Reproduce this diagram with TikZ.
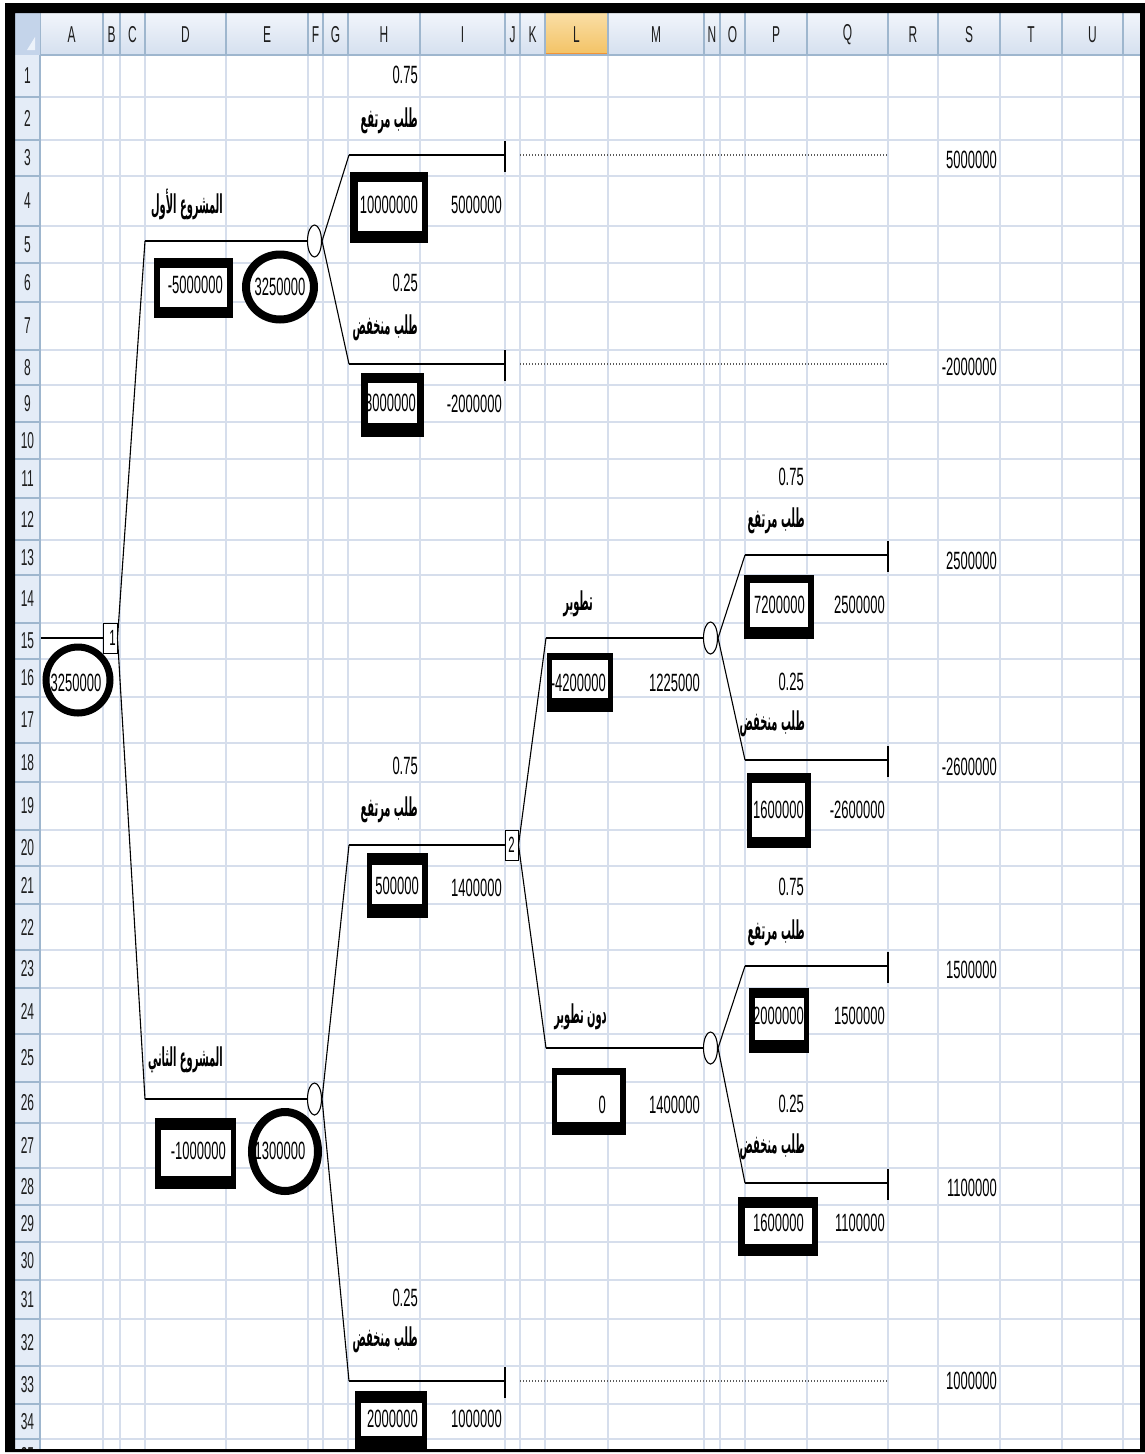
\documentclass[tikz,border=0pt]{standalone}
\usepackage{fontspec}
\TeXXeTstate=1
\newfontfamily\numfont[FakeStretch=0.52]{Liberation Sans}
\newfontfamily\arfont[Script=Arabic,FakeStretch=0.38]{DejaVu Sans}
\usetikzlibrary{shapes.geometric}
\definecolor{gridc}{RGB}{214,222,236}
\definecolor{hdrline}{RGB}{158,182,206}
\definecolor{hdrtop}{RGB}{241,245,251}
\definecolor{hdrbot}{RGB}{213,224,239}
\definecolor{rowhdr}{RGB}{228,236,247}
\definecolor{seltop}{RGB}{250,222,165}
\definecolor{selbot}{RGB}{243,194,100}
\definecolor{selline}{RGB}{242,148,54}
\definecolor{dotc}{RGB}{90,90,90}
\definecolor{hdrtext}{RGB}{30,30,30}
\definecolor{cornerc}{RGB}{196,212,234}
\definecolor{cornertri}{RGB}{236,242,250}
\newcommand\thickbox[8]{\fill[black] (#1,#2) rectangle (#3,#4); \fill[white] (#5,#6) rectangle (#7,#8);}
\tikzset{
  num/.style={font=\numfont\fontsize{25}{25}\selectfont, inner sep=0pt, anchor=east},
  ar/.style={font=\arfont\bfseries\fontsize{26}{26}\selectfont, inner sep=0pt, anchor=east},
  hdr/.style={font=\numfont\fontsize{23}{23}\selectfont, inner sep=0pt, text=hdrtext},
  hline/.style={line width=1.8pt},
  diag/.style={line width=1.1pt},
  chance/.style={draw, ellipse, line width=1.1pt, fill=white, minimum width=14pt, minimum height=32pt, inner sep=0pt},
  dsq/.style={draw, rectangle, line width=1pt, fill=white, minimum width=14pt, minimum height=30pt, inner sep=0pt, font=\numfont\fontsize{22}{22}\selectfont},
  evring/.style={line width=8pt, fill=white},
  dotl/.style={dotc, line width=1.2pt, dash pattern=on 1.2pt off 1.8pt},
  gridl/.style={gridc, line width=2pt}
}
\begin{document}
\begin{tikzpicture}[x=1pt,y=-1pt]
\useasboundingbox (0,0) rectangle (1145,1454);
\fill[white] (0,0) rectangle (1145,1454);
% gridlines
\foreach \gx in {103,120,145,226,308,323,348,420,505,520,545,608,704,720,745,807,888,938,1000,1062,1123}
  \draw[gridl] (\gx,55) -- (\gx,1449);
\foreach \gy in {97,140,176,226,263,302,350,385,422,459,498,540,575,623,659,697,743,782,830,866,904,950,988,1034,1082,1123,1168,1205,1242,1280,1319,1366,1404,1439}
  \draw[gridl] (40,\gy) -- (1140,\gy);
% column header
\shade[top color=hdrtop, bottom color=hdrbot] (40,13) rectangle (1140,55);
\shade[top color=seltop, bottom color=selbot] (545,13) rectangle (608,55);
\draw[selline, line width=2pt] (545,54) -- (608,54);
\foreach \ca/\cb/\cl in {40/103/A,103/120/B,120/145/C,145/226/D,226/308/E,308/323/F,323/348/G,348/420/H,420/505/I,505/520/J,520/545/K,545/608/L,608/704/M,704/720/N,720/745/O,745/807/P,807/888/Q,888/938/R,938/1000/S,1000/1062/T,1062/1123/U}{
  \draw[hdrline, line width=1.2pt] (\cb,13) -- (\cb,55);
  \node[hdr] (col\cl) at ({(\ca+\cb)/2},35) {\cl};
}
\draw[hdrline, line width=1.5pt] (15,55) -- (1140,55);
% row header
\fill[rowhdr] (15,55) rectangle (40,1449);
\draw[hdrline, line width=1.5pt] (40,13) -- (40,1449);
\foreach \ra/\rb [count=\ri] in {55/97,97/140,140/176,176/226,226/263,263/302,302/350,350/385,385/422,422/459,459/498,498/540,540/575,575/623,623/659,659/697,697/743,743/782,782/830,830/866,866/904,904/950,950/988,988/1034,1034/1082,1082/1123,1123/1168,1168/1205,1205/1242,1242/1280,1280/1319,1319/1366,1366/1404,1404/1439}{
  \draw[hdrline, line width=1.2pt] (15,\rb) -- (40,\rb);
  \node[hdr] (row\ri) at (27.5,{(\ra+\rb)/2}) {\ri};
}
\begin{scope}
  \clip (15,1439) rectangle (40,1449);
  \node[hdr] (row35) at (27.5,1456) {35};
\end{scope}
% corner
\fill[cornerc] (15,13) rectangle (40,55);
\fill[cornertri] (35,37) -- (35,50) -- (27,50) -- cycle;

% ---------- tree ----------
\node[dsq] (d1) at (110,638) {\hspace*{5pt}1};
\node[chance] (c1) at (314.5,241) {};
\node[chance] (c2) at (314.5,1099) {};
\node[dsq, minimum width=13pt] (d2) at (511.5,845) {2};
\node[chance] (c3) at (710.5,638) {};
\node[chance] (c4) at (710.5,1048) {};

\coordinate (root) at (41,638);
\coordinate (p1) at (145,241);
\coordinate (p2) at (145,1099);
\coordinate (q1) at (349,155);  \coordinate (q1e) at (505,155);
\coordinate (q2) at (349,364);  \coordinate (q2e) at (505,364);
\coordinate (q3) at (349,845);
\coordinate (q4) at (349,1381); \coordinate (q4e) at (505,1381);
\coordinate (r1) at (546,638);
\coordinate (r2) at (546,1048);
\coordinate (s1) at (745,555);  \coordinate (s1e) at (888,555);
\coordinate (s2) at (745,760);  \coordinate (s2e) at (888,760);
\coordinate (s3) at (745,966);  \coordinate (s3e) at (888,966);
\coordinate (s4) at (745,1183); \coordinate (s4e) at (888,1183);

\draw[hline] (root) -- (d1.west);
\draw[diag] (d1.east) -- (p1);
\draw[diag] (d1.east) -- (p2);
\draw[hline] (p1) -- (c1.west);
\draw[hline] (p2) -- (c2.west);
\draw[diag] (c1.east) -- (q1);
\draw[diag] (c1.east) -- (q2);
\draw[diag] (c2.east) -- (q3);
\draw[diag] (c2.east) -- (q4);
\draw[hline] (q1) -- (q1e);
\draw[hline] (q2) -- (q2e);
\draw[hline] (q4) -- (q4e);
\draw[hline] (q3) -- (d2.west);
\draw[diag] (d2.east) -- (r1);
\draw[diag] (d2.east) -- (r2);
\draw[hline] (r1) -- (c3.west);
\draw[hline] (r2) -- (c4.west);
\draw[diag] (c3.east) -- (s1);
\draw[diag] (c3.east) -- (s2);
\draw[diag] (c4.east) -- (s3);
\draw[diag] (c4.east) -- (s4);
\draw[hline] (s1) -- (s1e);
\draw[hline] (s2) -- (s2e);
\draw[hline] (s3) -- (s3e);
\draw[hline] (s4) -- (s4e);
% terminal ticks
\foreach \tk in {q1e,q2e,q4e,s1e,s2e,s3e,s4e}
  \draw[hline] ([yshift=14pt]\tk) -- ([yshift=-17pt]\tk);
% dotted links
\draw[dotl] ([xshift=15pt]q1e) -- (888,155);
\draw[dotl] ([xshift=15pt]q2e) -- (888,364);
\draw[dotl] ([xshift=15pt]q4e) -- (888,1381);

% thick boxes
\thickbox{350}{172}{428}{243}{358}{182}{422}{231}
\thickbox{361}{373}{424}{437}{368}{383}{417}{423}
\thickbox{154}{258}{233}{318}{160}{268}{227}{307}
\thickbox{155}{1118}{236}{1189}{161}{1130}{231}{1176}
\thickbox{367}{853}{428}{918}{372}{865}{422}{904}
\thickbox{355}{1391}{427}{1452}{361}{1403}{422}{1436}
\thickbox{547}{653}{613}{712}{552}{660}{608}{698}
\thickbox{552}{1068}{626}{1135}{557}{1075}{620}{1122}
\thickbox{744}{575}{814}{639}{750}{583}{808}{627}
\thickbox{747}{773}{811}{848}{752}{783}{805}{837}
\thickbox{749}{988}{809}{1053}{755}{998}{804}{1040}
\thickbox{738}{1197}{818}{1256}{745}{1208}{812}{1244}
% thick ellipses
\draw[evring] (280,287) ellipse [x radius=34pt, y radius=32.5pt];
\draw[evring] (285,1151.5) ellipse [x radius=33pt, y radius=39.5pt];
\draw[line width=7pt, fill=white] (78,680) ellipse [x radius=32pt, y radius=33pt];

% ---------- texts ----------
% probabilities
\node[num] (pr1) at (418,75) {0.75};
\node[num] (pr2) at (418,283) {0.25};
\node[num] (pr3) at (418,766) {0.75};
\node[num] (pr4) at (418,1298) {0.25};
\node[num] (pr5) at (804,477) {0.75};
\node[num] (pr6) at (804,682) {0.25};
\node[num] (pr7) at (804,887) {0.75};
\node[num] (pr8) at (804,1104) {0.25};
% arabic labels
\node[ar] (a1) at (418,121) {\beginR طلب مرتفع\endR};
\node[ar] (a2) at (418,328) {\beginR طلب منخفض\endR};
\node[ar] (a3) at (418,810) {\beginR طلب مرتفع\endR};
\node[ar] (a4) at (418,1340) {\beginR طلب منخفض\endR};
\node[ar] (a5) at (805,521) {\beginR طلب مرتفع\endR};
\node[ar] (a6) at (805,724) {\beginR طلب منخفض\endR};
\node[ar] (a7) at (805,933) {\beginR طلب مرتفع\endR};
\node[ar] (a8) at (805,1147) {\beginR طلب منخفض\endR};
\node[ar] (a9) at (223,204) {\beginR المشروع الأول\endR};
\begin{scope}
  \clip (143,1034) rectangle (230,1082);
  \node[ar] (a10) at (223,1060) {\beginR المشروع الثاني\endR};
\end{scope}
\node[ar] (a11) at (593,604) {\beginR تطوير\endR};
\node[ar] (a12) at (607,1017) {\beginR دون تطوير\endR};
% box values
\node[num] (b1) at (418,205) {10000000};
\node[num] (b2) at (416,403) {3000000};
\node[num] (b3) at (223,285) {-5000000};
\node[num] (b4) at (226,1151) {-1000000};
\node[num] (b5) at (419,886) {500000};
\node[num] (b6) at (418,1419) {2000000};
\node[num] (b7) at (606,683) {-4200000};
\node[num] (b8) at (606,1105) {0};
\node[num] (b9) at (805,605) {7200000};
\node[num] (b10) at (804,810) {1600000};
\node[num] (b11) at (804,1016) {2000000};
\node[num] (b12) at (804,1223) {1600000};
% ellipse values
\node[num, anchor=center] (e1) at (280,287) {3250000};
\node[num, anchor=center] (e2) at (280,1151) {1300000};
\node[num, anchor=center] (e3) at (76,683) {3250000};
% column I / M / Q values
\node[num] (v1) at (502,205) {5000000};
\node[num] (v2) at (502,404) {-2000000};
\node[num] (v3) at (502,888) {1400000};
\node[num] (v4) at (502,1419) {1000000};
\node[num] (v5) at (700,683) {1225000};
\node[num] (v6) at (700,1105) {1400000};
\node[num] (v7) at (885,605) {2500000};
\node[num] (v8) at (885,810) {-2600000};
\node[num] (v9) at (885,1016) {1500000};
\node[num] (v10) at (885,1223) {1100000};
% column S
\node[num] (w1) at (997,160) {5000000};
\node[num] (w2) at (997,367) {-2000000};
\node[num] (w3) at (997,561) {2500000};
\node[num] (w4) at (997,767) {-2600000};
\node[num] (w5) at (997,970) {1500000};
\node[num] (w6) at (997,1188) {1100000};
\node[num] (w7) at (997,1381) {1000000};

% outer black frame
\fill[black, even odd rule] (5,3) rectangle (1145,1452) (15,13) rectangle (1140,1449);
\end{tikzpicture}
\end{document}
